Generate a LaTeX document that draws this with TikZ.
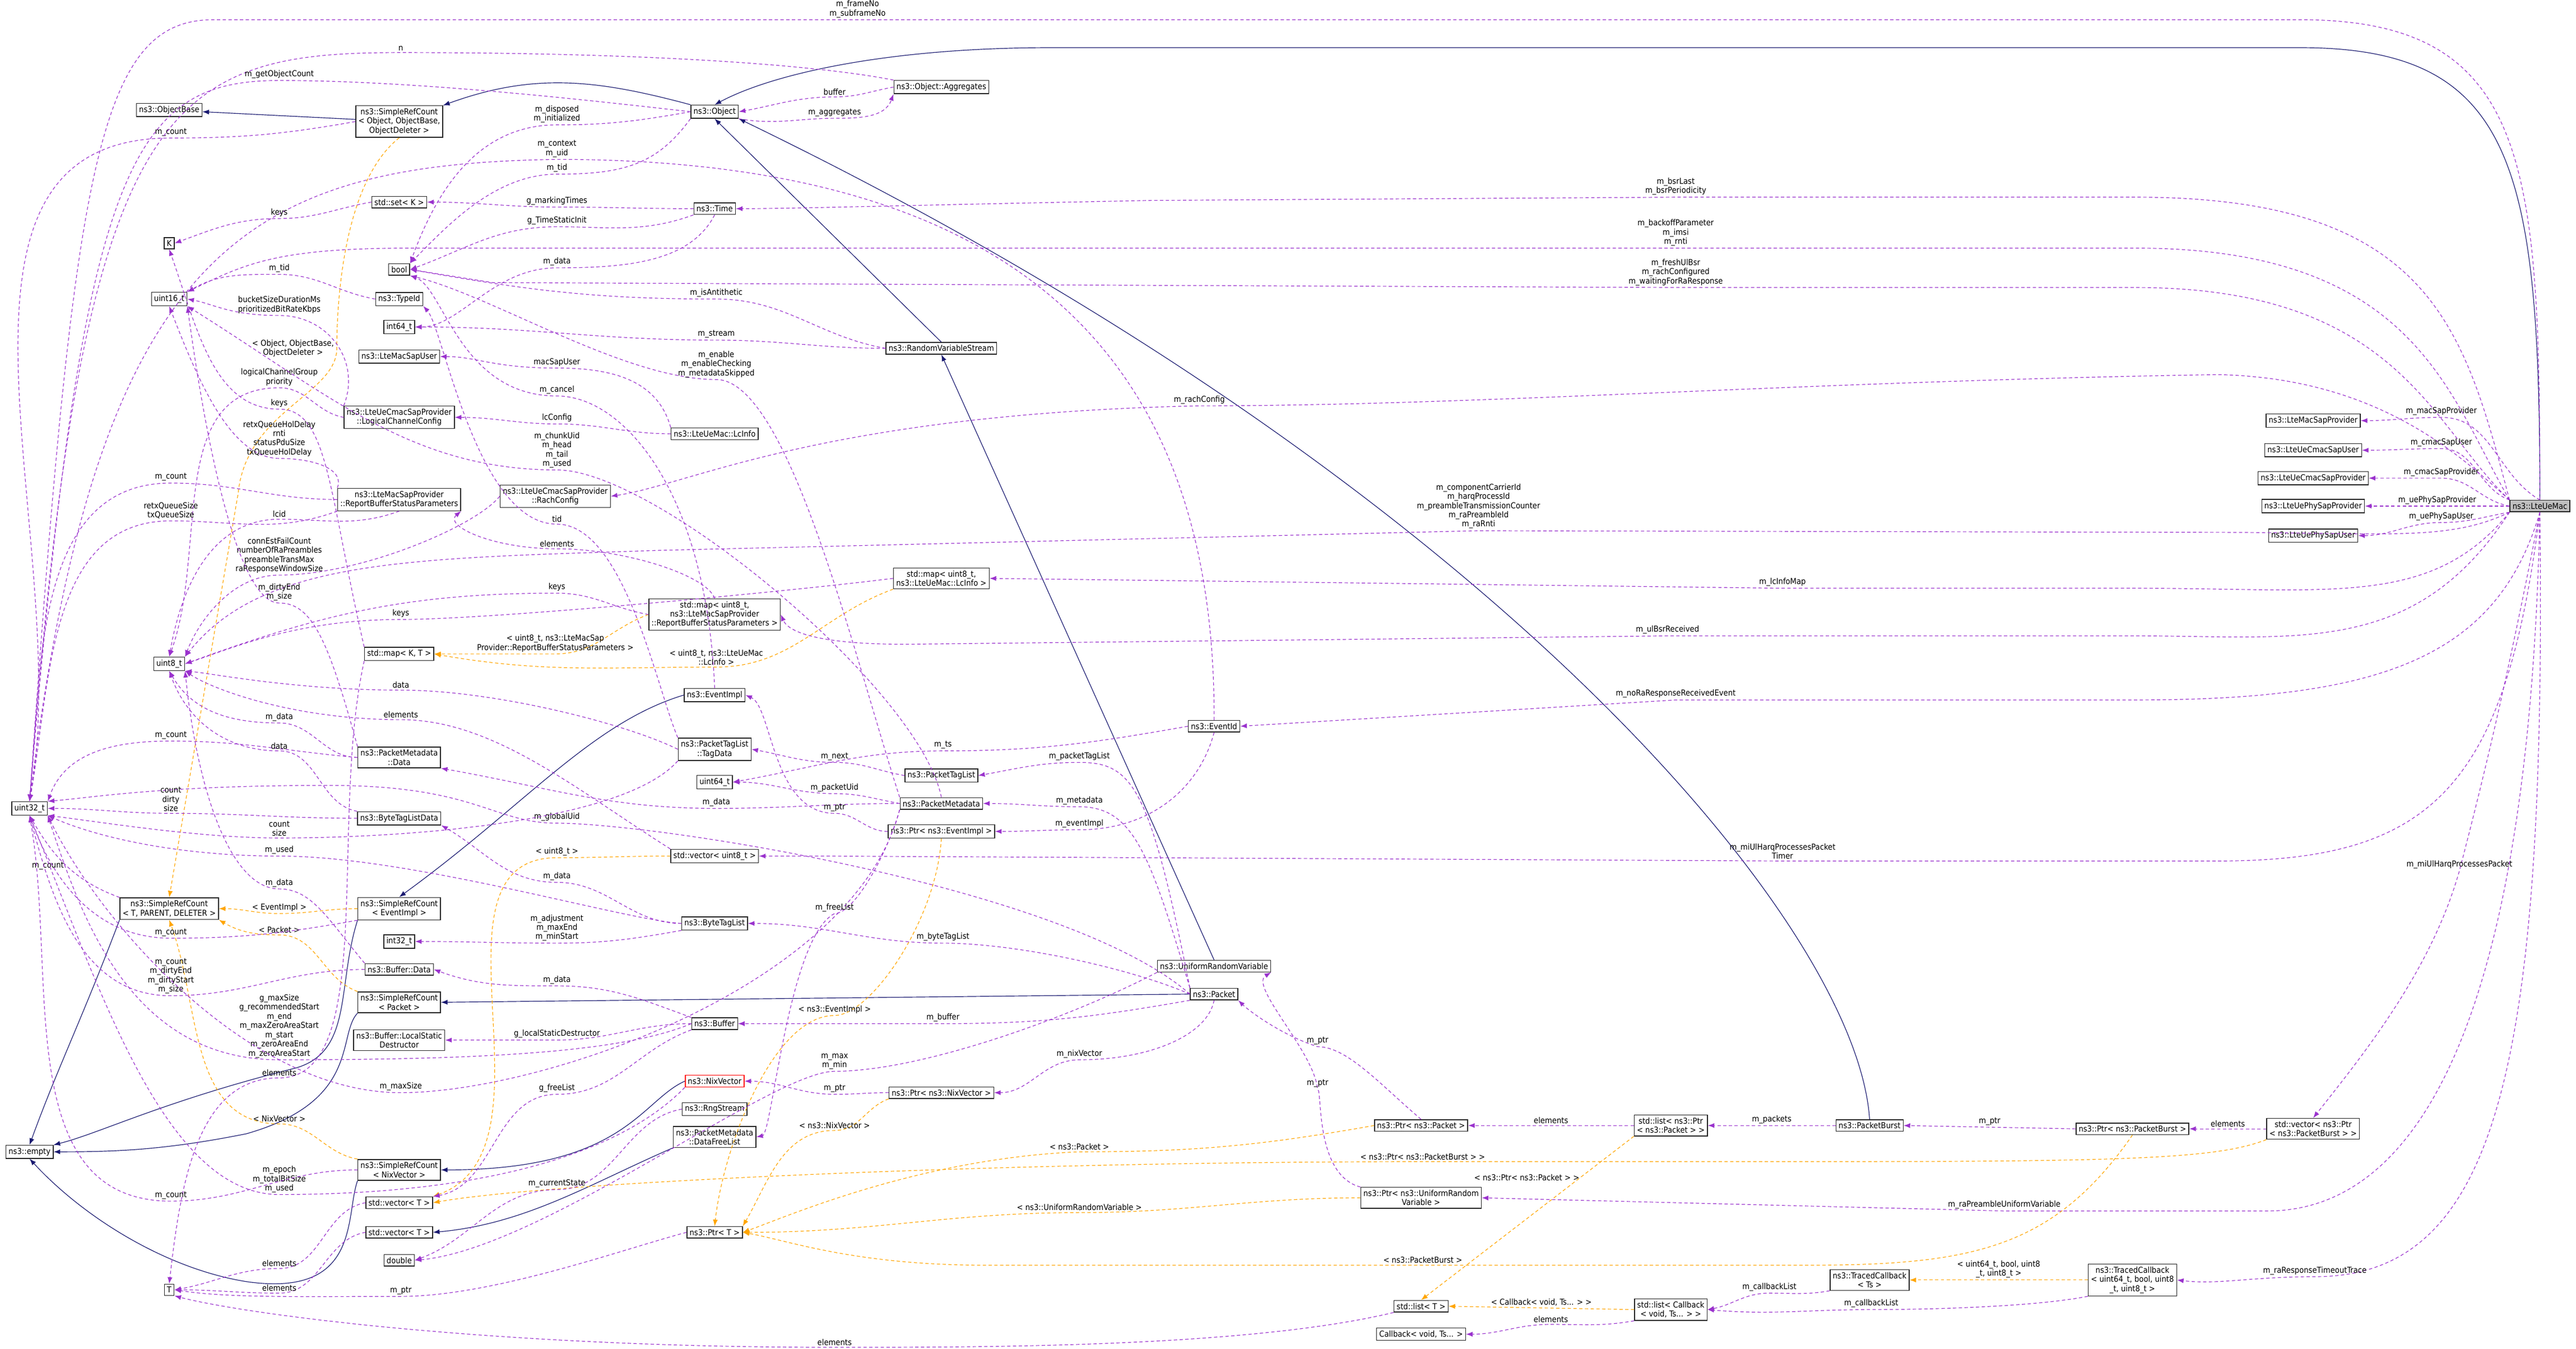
\documentclass[tikz,border=0pt]{standalone}
\usepackage{fontspec}
\setmainfont{DejaVu Sans Condensed}
\usetikzlibrary{arrows.meta}
\definecolor{memcol}{HTML}{9A32CD}
\definecolor{inhcol}{HTML}{191970}
\definecolor{tplcol}{HTML}{FFA500}
\tikzset{
  cls/.style={draw=black!85,fill=white,line width=0.5pt,inner sep=1.6pt,align=center,font=\fontsize{5}{5.6}\selectfont},
  lbl/.style={inner sep=0.6pt,align=center,font=\fontsize{5}{5.6}\selectfont},
  ab/.style={lbl,above=0.4pt},
  mem/.style={draw=memcol,line width=0.4pt,dash pattern=on 2pt off 1.5pt,-{Latex[length=4pt,width=3pt]}},
  inh/.style={draw=inhcol,line width=0.4pt,-{Latex[length=4pt,width=3pt]}},
  tpl/.style={draw=tplcol,line width=0.4pt,dash pattern=on 2pt off 1.5pt,-{Latex[length=4pt,width=3pt]}},
}
\begin{document}
\begin{tikzpicture}[x=1pt,y=-1pt]
  \useasboundingbox (0,0) rectangle (1568,821);

  % classes
  \node[cls,fill=black!25] (mac) at (1546,308) {ns3::LteUeMac};
  \node[cls] (object) at (435,68) {ns3::Object};
  \node[cls] (aggr) at (573,53) {ns3::Object::Aggregates};
  \node[cls] (objbase) at (103,67) {ns3::ObjectBase};
  \node[cls] (srcobj) at (243,74) {ns3::SimpleRefCount\\< Object, ObjectBase,\\ObjectDeleter >};
  \node[cls] (setk) at (243,123) {std::set< K >};
  \node[cls] (k) at (103,148) {K};
  \node[cls] (bool) at (243,164) {bool};
  \node[cls] (uint16) at (103,182) {uint16\_t};
  \node[cls] (typeid) at (243,182) {ns3::TypeId};
  \node[cls] (int64) at (243,199) {int64\_t};
  \node[cls] (macsapuser) at (243,217) {ns3::LteMacSapUser};
  \node[cls] (lcc) at (243,254) {ns3::LteUeCmacSapProvider\\::LogicalChannelConfig};
  \node[cls] (time) at (435,127) {ns3::Time};
  \node[cls] (rvs) at (573,212) {ns3::RandomVariableStream};
  \node[cls] (lcinfo) at (435,264) {ns3::LteUeMac::LcInfo};
  \node[cls] (rbsp) at (243,304) {ns3::LteMacSapProvider\\::ReportBufferStatusParameters};
  \node[cls] (rach) at (338,302) {ns3::LteUeCmacSapProvider\\::RachConfig};
  \node[cls] (uint8) at (103,404) {uint8\_t};
  \node[cls] (maplc) at (573,352) {std::map< uint8\_t,\\ ns3::LteUeMac::LcInfo >};
  \node[cls] (maprbsp) at (435,374) {std::map< uint8\_t,\\ ns3::LteMacSapProvider\\::ReportBufferStatusParameters >};
  \node[cls] (mapkt) at (243,398) {std::map< K, T >};
  \node[cls] (eventimpl) at (435,423) {ns3::EventImpl};
  \node[cls] (tagdata) at (435,456) {ns3::PacketTagList\\::TagData};
  \node[cls] (pmdata) at (243,461) {ns3::PacketMetadata\\::Data};
  \node[cls] (uint32) at (18,492) {uint32\_t};
  \node[cls] (btldata) at (243,498) {ns3::ByteTagListData};
  \node[cls] (uint64) at (435,476) {uint64\_t};
  \node[cls] (ptaglist) at (573,472) {ns3::PacketTagList};
  \node[cls] (pmeta) at (573,489) {ns3::PacketMetadata};
  \node[cls] (ptrevent) at (573,506) {ns3::Ptr< ns3::EventImpl >};
  \node[cls] (eventid) at (739,442) {ns3::EventId};
  \node[cls] (vecuint8) at (435,521) {std::vector< uint8\_t >};
  \node[cls] (srct) at (103,553) {ns3::SimpleRefCount\\< T, PARENT, DELETER >};
  \node[cls] (srcevent) at (243,553) {ns3::SimpleRefCount\\< EventImpl >};
  \node[cls] (int32) at (243,573) {int32\_t};
  \node[cls] (btaglist) at (435,562) {ns3::ByteTagList};
  \node[cls] (bufdata) at (243,590) {ns3::Buffer::Data};
  \node[cls] (urv) at (739,588) {ns3::UniformRandomVariable};
  \node[cls] (packet) at (739,605) {ns3::Packet};
  \node[cls] (srcpacket) at (243,610) {ns3::SimpleRefCount\\< Packet >};
  \node[cls] (lsd) at (243,633) {ns3::Buffer::LocalStatic\\Destructor};
  \node[cls] (buffer) at (435,623) {ns3::Buffer};
  \node[cls] (empty) at (18,701) {ns3::empty};
  \node[cls,draw=red] (nix) at (435,658) {ns3::NixVector};
  \node[cls] (rng) at (435,675) {ns3::RngStream};
  \node[cls] (dfl) at (435,692) {ns3::PacketMetadata\\::DataFreeList};
  \node[cls] (ptrnix) at (573,665) {ns3::Ptr< ns3::NixVector >};
  \node[cls] (srcnix) at (243,712) {ns3::SimpleRefCount\\< NixVector >};
  \node[cls] (vect1) at (243,732) {std::vector< T >};
  \node[cls] (vect2) at (243,750) {std::vector< T >};
  \node[cls] (double) at (243,767) {double};
  \node[cls] (ptrt) at (435,750) {ns3::Ptr< T >};
  \node[cls] (t) at (103,785) {T};
  \node[cls] (ptrpacket) at (865,685) {ns3::Ptr< ns3::Packet >};
  \node[cls] (listpp) at (1017,685) {std::list< ns3::Ptr\\< ns3::Packet > >};
  \node[cls] (pburst) at (1138,685) {ns3::PacketBurst};
  \node[cls] (ptrpb) at (1298,687) {ns3::Ptr< ns3::PacketBurst >};
  \node[cls] (vecpb) at (1408,687) {std::vector< ns3::Ptr\\< ns3::PacketBurst > >};
  \node[cls] (ptrurv) at (865,729) {ns3::Ptr< ns3::UniformRandom\\Variable >};
  \node[cls] (listt) at (865,795) {std::list< T >};
  \node[cls] (cbvoid) at (865,812) {Callback< void, Ts... >};
  \node[cls] (listcb) at (1017,797) {std::list< Callback\\< void, Ts... > >};
  \node[cls] (tcts) at (1138,779) {ns3::TracedCallback\\< Ts >};
  \node[cls] (tcu) at (1298,779) {ns3::TracedCallback\\< uint64\_t, bool, uint8\\\_t, uint8\_t >};
  \node[cls] (macsapprov) at (1408,256) {ns3::LteMacSapProvider};
  \node[cls] (cmacuser) at (1408,274) {ns3::LteUeCmacSapUser};
  \node[cls] (cmacprov) at (1408,291) {ns3::LteUeCmacSapProvider};
  \node[cls] (phyprov) at (1408,308) {ns3::LteUePhySapProvider};
  \node[cls] (phyuser) at (1408,326) {ns3::LteUePhySapUser};

  % inheritance
  \draw[inh] (srcobj) -- (objbase);
  \draw[inh] (object.north west) to[out=165,in=20] (srcobj.north east);
  \draw[inh] (mac.north) .. controls (1546,100) and (1530,29) .. (1400,29) -- (640,29) .. controls (540,29) and (470,45) .. (object.north);
  \draw[inh] (rvs.north) -- (object.south);
  \draw[inh] (pburst.north) .. controls (1130,560) and (900,290) .. (object.south east);
  \draw[inh] (urv.north) -- (rvs.south);
  \draw[inh] (packet.west) -- (srcpacket.east);
  \draw[inh] (eventimpl.west) .. controls (360,440) and (320,490) .. (srcevent.north);
  \draw[inh] (nix.west) .. controls (390,670) and (380,712) .. (srcnix.east);
  \draw[inh] (dfl.south west) .. controls (360,720) and (320,745) .. (vect2.east);
  \draw[inh] (srct.south west) .. controls (50,620) and (35,650) .. (empty.north);
  \draw[inh] (srcevent.south west) .. controls (205,600) and (215,640) .. (180,650) .. controls (100,670) and (60,690) .. (empty.north east);
  \draw[inh] (srcpacket.south west) .. controls (205,630) and (220,670) .. (150,690) .. controls (100,700) and (70,701) .. (empty.east);
  \draw[inh] (srcnix.south west) .. controls (210,740) and (220,790) .. (150,780) .. controls (100,772) and (50,740) .. (empty.south);

  % template instances
  \draw[tpl] (srcobj.south) .. controls (210,110) and (205,180) .. (205,212) node[lbl,left=1pt]{< Object, ObjectBase,\\ObjectDeleter >} .. controls (205,240) and (150,250) .. (145,300) -- (srct.north);
  \draw[tpl] (srcevent.west) to[out=180,in=0] (170,556) node[ab]{< EventImpl >} to[out=180,in=0] (srct.east);
  \draw[tpl] (srcpacket.north west) to[out=160,in=0] (170,569) node[ab]{< Packet >} to[out=180,in=-30] (srct.south east);
  \draw[tpl] (srcnix.north west) to[out=170,in=0] (170,684) node[ab]{< NixVector >} to[out=180,in=-70] (srct.south);
  \draw[tpl] (maprbsp.west) to[out=200,in=0] (338,398) node[ab]{< uint8\_t, ns3::LteMacSap\\Provider::ReportBufferStatusParameters >} to[out=180,in=0] (mapkt.east);
  \draw[tpl] (maplc.south west) to[out=200,in=0] (436,406) node[ab]{< uint8\_t, ns3::LteUeMac\\::LcInfo >} to[out=180,in=-10] (mapkt.east);
  \draw[tpl] (vecuint8.west) to[out=180,in=0] (339,522) node[ab]{< uint8\_t >} to[out=180,in=20] (vect1.north east);
  \draw[tpl] (vecpb.south west) .. controls (1350,705) and (1300,707) .. (1100,707) -- (866,707) node[ab]{< ns3::Ptr< ns3::PacketBurst > >} .. controls (600,707) and (330,720) .. (vect1.east);
  \draw[tpl] (ptrevent.south) .. controls (570,560) and (530,618) .. (508,618) node[ab]{< ns3::EventImpl >} .. controls (470,618) and (440,700) .. (ptrt.north);
  \draw[tpl] (ptrnix.south west) to[out=200,in=0] (508,688) node[ab]{< ns3::NixVector >} to[out=180,in=60] (ptrt.north east);
  \draw[tpl] (ptrpacket.west) to[out=190,in=0] (657,701) node[ab]{< ns3::Packet >} .. controls (560,705) and (480,740) .. (ptrt.east);
  \draw[tpl] (ptrurv.west) to[out=180,in=0] (657,738) node[ab]{< ns3::UniformRandomVariable >} to[out=180,in=0] (ptrt.east);
  \draw[tpl] (ptrpb.south) .. controls (1250,760) and (1200,770) .. (1100,770) -- (866,770) node[ab]{< ns3::PacketBurst >} -- (600,770) .. controls (520,770) and (480,755) .. (ptrt.east);
  \draw[tpl] (listpp.south west) -- node[lbl,pos=0.25,left]{< ns3::Ptr< ns3::Packet > >} (listt.north);
  \draw[tpl] (listcb.west) -- node[ab]{< Callback< void, Ts... > >} (listt.east);
  \draw[tpl] (tcu.west) -- node[ab]{< uint64\_t, bool, uint8\\\_t, uint8\_t >} (tcts.east);

  % members of ns3::LteUeMac
  \draw[mem] (mac.north) .. controls (1546,100) and (1540,12) .. (1400,12) -- (522,12) node[ab]{m\_frameNo\\m\_subframeNo} -- (130,12) .. controls (60,12) and (45,100) .. (uint32.north);
  \draw[mem] (mac.north west) .. controls (1500,200) and (1480,120) .. (1300,120) -- (1020,120) node[ab]{m\_bsrLast\\m\_bsrPeriodicity} -- (700,122) .. controls (550,125) and (480,127) .. (time.east);
  \draw[mem] (mac.north west) .. controls (1490,240) and (1470,151) .. (1300,151) -- (1020,151) node[ab]{m\_backoffParameter\\m\_imsi\\m\_rnti} -- (250,151) .. controls (170,151) and (150,160) .. (uint16.north east);
  \draw[mem] (mac.north west) .. controls (1480,260) and (1460,175) .. (1300,175) -- (1020,175) node[ab]{m\_freshUlBsr\\m\_rachConfigured\\m\_waitingForRaResponse} -- (300,172) -- (bool.east);
  \draw[mem] (mac.north west) .. controls (1500,280) and (1450,230) .. (1350,228) .. controls (1100,232) and (900,247) .. (730,247) node[ab]{m\_rachConfig} .. controls (500,252) and (420,295) .. (rach.east);
  \draw[mem] (mac.north) to[out=150,in=0] (1486,254) node[ab]{m\_macSapProvider} to[out=180,in=0] (macsapprov.east);
  \draw[mem] (mac.north west) to[out=160,in=0] (1486,273) node[ab]{m\_cmacSapUser} to[out=180,in=0] (cmacuser.east);
  \draw[mem] (mac.west) to[out=170,in=0] (1486,291) node[ab]{m\_cmacSapProvider} to[out=180,in=0] (cmacprov.east);
  \draw[mem] (mac.west) -- node[ab]{m\_uePhySapProvider} (phyprov.east);
  \draw[mem] (mac.south west) to[out=190,in=0] (1486,318) node[ab]{m\_uePhySapUser} to[out=180,in=0] (phyuser.east);
  \draw[mem] (mac.south west) .. controls (1490,330) and (1450,324) .. (1350,324) -- (900,323) node[ab]{m\_componentCarrierId\\m\_harqProcessId\\m\_preambleTransmissionCounter\\m\_raPreambleId\\m\_raRnti} -- (400,335) .. controls (250,340) and (160,340) .. (uint8.north east);
  \draw[mem] (mac.south west) .. controls (1480,370) and (1420,358) .. (1300,358) -- (1085,358) node[ab]{m\_lcInfoMap} -- (maplc.east);
  \draw[mem] (mac.south west) .. controls (1470,400) and (1400,387) .. (1300,387) -- (1015,387) node[ab]{m\_ulBsrReceived} -- (560,392) .. controls (500,393) and (480,385) .. (maprbsp.east);
  \draw[mem] (mac.south) .. controls (1520,400) and (1450,426) .. (1300,426) -- (1020,426) node[ab]{m\_noRaResponseReceivedEvent} -- (eventid.east);
  \draw[mem] (mac.south) .. controls (1525,480) and (1480,524) .. (1350,524) -- (1085,524) node[ab]{m\_miUlHarqProcessesPacket\\Timer} -- (500,521) -- (vecuint8.east);
  \draw[mem] (mac.south) .. controls (1525,420) and (1510,480) .. (1497,530) node[ab]{m\_miUlHarqProcessesPacket} .. controls (1480,590) and (1440,640) .. (vecpb.north);
  \draw[mem] (mac.south) .. controls (1540,600) and (1480,737) .. (1380,737) -- (1220,737) node[ab]{m\_raPreambleUniformVariable} -- (ptrurv.east);
  \draw[mem] (mac.south) .. controls (1550,650) and (1520,777) .. (1409,777) node[ab]{m\_raResponseTimeoutTrace} .. controls (1370,777) and (1350,782) .. (tcu.east);

  % other members
  \draw[mem] (srcobj.west) to[out=190,in=0] (104,84) node[ab]{m\_count} to[out=180,in=80] (uint32.north);
  \draw[mem] (aggr.north west) .. controls (500,40) and (400,32) .. (244,32) node[ab]{n} .. controls (100,32) and (50,60) .. (uint32.north);
  \draw[mem] (object.west) .. controls (350,60) and (250,49) .. (170,49) node[ab]{m\_getObjectCount} .. controls (80,49) and (50,100) .. (uint32.north);
  \draw[mem] (aggr.west) to[out=190,in=0] (508,59) node[ab]{buffer} to[out=180,in=10] (object.east);
  \draw[mem] (object.south east) to[out=-10,in=180] (508,72) node[ab]{m\_aggregates} to[out=0,in=-110] (aggr.south west);
  \draw[mem] (object.west) to[out=190,in=0] (339,76) node[ab]{m\_disposed\\m\_initialized} to[out=180,in=70] (bool.north east);
  \draw[mem] (eventid.north) .. controls (740,200) and (600,97) .. (339,97) node[ab]{m\_context\\m\_uid} .. controls (150,100) and (60,150) .. (uint32.north);
  \draw[mem] (object.south west) .. controls (400,100) and (380,106) .. (339,106) node[ab]{m\_tid} .. controls (300,106) and (270,140) .. (bool.north east);
  \draw[mem] (time.west) to[out=180,in=0] (339,126) node[ab]{g\_markingTimes} to[out=180,in=0] (setk.east);
  \draw[mem] (setk.west) to[out=190,in=0] (170,133) node[ab]{keys} to[out=180,in=20] (k.east);
  \draw[mem] (time.south west) to[out=200,in=0] (339,138) node[ab]{g\_TimeStaticInit} to[out=180,in=20] (bool.east);
  \draw[mem] (time.south) .. controls (420,160) and (380,163) .. (339,163) node[ab]{m\_data} .. controls (300,163) and (280,199) .. (int64.east);
  \draw[mem] (typeid.west) to[out=170,in=0] (170,167) node[ab]{m\_tid} to[out=180,in=30] (uint16.north east);
  \draw[mem] (lcc.north west) .. controls (220,220) and (200,192) .. (170,192) node[ab]{bucketSizeDurationMs\\prioritizedBitRateKbps} .. controls (140,192) and (130,185) .. (uint16.east);
  \draw[mem] (lcinfo.north west) .. controls (400,230) and (370,224) .. (339,224) node[ab]{macSapUser} .. controls (300,224) and (290,217) .. (macsapuser.east);
  \draw[mem] (lcc.west) to[out=170,in=0] (170,236) node[ab]{logicalChannelGroup\\priority} to[out=180,in=70] (uint8.north);
  \draw[mem] (eventimpl.north) .. controls (430,300) and (380,241) .. (339,241) node[ab]{m\_cancel} .. controls (280,241) and (270,175) .. (bool.south east);
  \draw[mem] (mapkt.north west) .. controls (200,300) and (200,249) .. (170,249) node[ab]{keys} .. controls (130,249) and (120,200) .. (k.south);
  \draw[mem] (lcinfo.west) to[out=180,in=0] (339,258) node[ab]{lcConfig} to[out=180,in=0] (lcc.east);
  \draw[mem] (rbsp.north west) .. controls (210,285) and (190,279) .. (170,279) node[ab]{retxQueueHolDelay\\rnti\\statusPduSize\\txQueueHolDelay} .. controls (140,279) and (120,230) .. (uint16.south);
  \draw[mem] (pmeta.north) .. controls (560,420) and (400,286) .. (339,286) node[ab]{m\_chunkUid\\m\_head\\m\_tail\\m\_used} .. controls (250,286) and (200,240) .. (uint16.south east);
  \draw[mem] (rvs.west) to[out=170,in=0] (436,182) node[ab]{m\_isAntithetic} to[out=180,in=-10] (bool.east);
  \draw[mem] (rvs.west) to[out=180,in=0] (436,207) node[ab]{m\_stream} to[out=180,in=0] (int64.east);
  \draw[mem] (pmeta.north west) .. controls (520,400) and (480,231) .. (436,231) node[ab]{m\_enable\\m\_enableChecking\\m\_metadataSkipped} .. controls (380,231) and (300,180) .. (bool.south east);
  \draw[mem] (rbsp.west) to[out=180,in=0] (104,294) node[ab]{m\_count} to[out=180,in=85] (uint32.north);
  \draw[mem] (rbsp.south west) to[out=200,in=0] (104,317) node[ab]{retxQueueSize\\txQueueSize} to[out=180,in=80] (uint32.north);
  \draw[mem] (rbsp.south) to[out=200,in=0] (170,316) node[ab]{lcid} to[out=180,in=80] (uint8.north);
  \draw[mem] (tagdata.north west) .. controls (400,420) and (380,319) .. (339,319) node[ab]{tid} .. controls (290,319) and (270,200) .. (typeid.south east);
  \draw[mem] (maprbsp.north) .. controls (430,350) and (380,334) .. (339,334) node[ab]{elements} .. controls (300,334) and (270,320) .. (rbsp.south east);
  \draw[mem] (rach.west) .. controls (290,320) and (220,350) .. (170,350) node[ab]{connEstFailCount\\numberOfRaPreambles\\preambleTransMax\\raResponseWindowSize} .. controls (140,350) and (120,380) .. (uint8.north east);
  \draw[mem] (maprbsp.west) to[out=170,in=0] (339,361) node[ab]{keys} to[out=180,in=20] (uint8.east);
  \draw[mem] (pmdata.north west) .. controls (200,390) and (190,367) .. (170,367) node[ab]{m\_dirtyEnd\\m\_size} .. controls (140,367) and (120,230) .. (uint16.south east);
  \draw[mem] (maplc.west) .. controls (480,360) and (300,377) .. (244,377) node[ab]{keys} .. controls (180,377) and (140,395) .. (uint8.east);
  \draw[mem] (tagdata.west) .. controls (380,440) and (300,420) .. (244,420) node[ab]{data} .. controls (180,420) and (130,410) .. (uint8.south east);
  \draw[mem] (vecuint8.north west) .. controls (350,480) and (300,438) .. (244,438) node[ab]{elements} .. controls (180,438) and (130,420) .. (uint8.south east);
  \draw[mem] (pmdata.west) to[out=180,in=0] (170,440) node[ab]{m\_data} to[out=180,in=-60] (uint8.south);
  \draw[mem] (pmdata.west) to[out=175,in=0] (104,451) node[ab]{m\_count} to[out=180,in=70] (uint32.north east);
  \draw[mem] (btldata.north west) to[out=170,in=0] (170,457) node[ab]{data} to[out=180,in=-70] (uint8.south);
  \draw[mem] (packet.west) .. controls (650,540) and (400,501) .. (339,501) node[ab]{m\_globalUid} .. controls (300,501) and (290,478) .. (200,478) .. controls (100,478) and (60,485) .. (uint32.north east);
  \draw[mem] (btldata.west) to[out=180,in=0] (104,495) node[ab]{count\\dirty\\size} to[out=180,in=0] (uint32.east);
  \draw[mem] (tagdata.south west) .. controls (380,500) and (250,510) .. (170,510) node[ab]{count\\size} .. controls (120,510) and (60,500) .. (uint32.south east);
  \draw[mem] (btaglist.west) .. controls (380,560) and (250,521) .. (170,521) node[ab]{m\_used} .. controls (110,521) and (60,510) .. (uint32.south east);
  \draw[mem] (btaglist.west) to[out=180,in=0] (339,537) node[ab]{m\_data} to[out=180,in=-30] (btldata.south east);
  \draw[mem] (srct.north west) to[out=160,in=-60] node[lbl,left=1pt,pos=0.5]{m\_count} (uint32.south);
  \draw[mem] (bufdata.north west) .. controls (200,560) and (190,541) .. (170,541) node[ab]{m\_data} .. controls (140,541) and (120,480) .. (uint8.south east);
  \draw[mem] (srcevent.south west) to[out=190,in=0] (104,571) node[ab]{m\_count} to[out=180,in=-70] (uint32.south);
  \draw[mem] (bufdata.west) to[out=180,in=0] (104,606) node[ab]{m\_count\\m\_dirtyEnd\\m\_dirtyStart\\m\_size} to[out=180,in=-75] (uint32.south);
  \draw[mem] (btaglist.south west) to[out=190,in=0] (339,574) node[ab]{m\_adjustment\\m\_maxEnd\\m\_minStart} to[out=180,in=0] (int32.east);
  \draw[mem] (buffer.north west) to[out=160,in=0] (339,600) node[ab]{m\_data} to[out=180,in=-20] (bufdata.east);
  \draw[mem] (buffer.west) .. controls (380,640) and (300,645) .. (170,645) node[ab]{g\_maxSize\\g\_recommendedStart\\m\_end\\m\_maxZeroAreaStart\\m\_start\\m\_zeroAreaEnd\\m\_zeroAreaStart} .. controls (80,645) and (50,560) .. (uint32.south east);
  \draw[mem] (buffer.west) to[out=180,in=0] (339,633) node[ab]{g\_localStaticDestructor} to[out=180,in=0] (lsd.east);
  \draw[mem] (mapkt.south west) .. controls (200,500) and (230,656) .. (170,656) node[ab]{elements} .. controls (120,656) and (110,720) .. (t.north);
  \draw[mem] (pmeta.south west) .. controls (520,600) and (330,665) .. (244,665) node[ab]{m\_maxSize} .. controls (150,665) and (60,560) .. (uint32.south east);
  \draw[mem] (buffer.south west) to[out=200,in=0] (339,666) node[ab]{g\_freeList} to[out=180,in=10] (vect1.north east);
  \draw[mem] (nix.south west) .. controls (380,700) and (300,727) .. (170,727) node[ab]{m\_epoch\\m\_totalBitSize\\m\_used} .. controls (100,727) and (60,600) .. (uint32.south);
  \draw[mem] (srcnix.west) to[out=180,in=0] (104,731) node[ab]{m\_count} to[out=180,in=-80] (uint32.south);
  \draw[mem] (rng.west) to[out=190,in=0] (339,724) node[ab]{m\_currentState} to[out=180,in=20] (double.east);
  \draw[mem] (urv.south west) .. controls (650,620) and (560,652) .. (508,652) node[ab]{m\_max\\m\_min} .. controls (470,652) and (330,760) .. (double.east);
  \draw[mem] (vect1.west) to[out=190,in=0] (170,772) node[ab]{elements} to[out=180,in=10] (t.east);
  \draw[mem] (vect2.west) to[out=190,in=0] (170,787) node[ab]{elements} to[out=180,in=0] (t.east);
  \draw[mem] (ptrt.west) .. controls (380,760) and (300,789) .. (244,789) node[ab]{m\_ptr} .. controls (180,789) and (140,790) .. (t.east);
  \draw[mem] (listt.south west) .. controls (760,820) and (600,820) .. (508,820) node[ab]{elements} .. controls (300,820) and (150,800) .. (t.south east);
  \draw[mem] (eventid.west) to[out=190,in=0] (574,457) node[ab]{m\_ts} to[out=180,in=10] (uint64.east);
  \draw[mem] (ptaglist.west) to[out=170,in=0] (508,464) node[ab]{m\_next} to[out=180,in=-10] (tagdata.east);
  \draw[mem] (packet.north west) .. controls (700,480) and (690,464) .. (657,464) node[ab]{m\_packetTagList} to[out=180,in=10] (ptaglist.east);
  \draw[mem] (pmeta.west) to[out=170,in=0] (508,483) node[ab]{m\_packetUid} to[out=180,in=0] (uint64.east);
  \draw[mem] (pmeta.west) to[out=180,in=0] (436,492) node[ab]{m\_data} to[out=180,in=-10] (pmdata.south east);
  \draw[mem] (ptrevent.west) to[out=180,in=0] (508,495) node[ab]{m\_ptr} .. controls (470,495) and (470,430) .. (eventimpl.east);
  \draw[mem] (packet.north west) .. controls (700,520) and (690,491) .. (657,491) node[ab]{m\_metadata} to[out=180,in=0] (pmeta.east);
  \draw[mem] (eventid.south) .. controls (730,480) and (700,505) .. (657,505) node[ab]{m\_eventImpl} to[out=180,in=0] (ptrevent.east);
  \draw[mem] (pmeta.south west) .. controls (540,520) and (520,556) .. (508,556) node[ab]{m\_freeList} .. controls (480,570) and (470,690) .. (dfl.east);
  \draw[mem] (packet.west) .. controls (690,590) and (620,574) .. (574,574) node[ab]{m\_byteTagList} to[out=180,in=0] (btaglist.east);
  \draw[mem] (packet.south west) to[out=190,in=0] (574,623) node[ab]{m\_buffer} to[out=180,in=0] (buffer.east);
  \draw[mem] (packet.south) .. controls (735,630) and (700,645) .. (657,645) node[ab]{m\_nixVector} to[out=180,in=0] (ptrnix.east);
  \draw[mem] (ptrnix.west) to[out=180,in=0] (508,666) node[ab]{m\_ptr} to[out=180,in=0] (nix.east);
  \draw[mem] (ptrpacket.north) .. controls (840,660) and (820,637) .. (802,637) node[ab]{m\_ptr} .. controls (780,630) and (760,615) .. (packet.south east);
  \draw[mem] (ptrurv.north west) .. controls (800,715) and (805,663) .. (802,663) node[ab]{m\_ptr} .. controls (800,640) and (760,600) .. (urv.south east);
  \draw[mem] (listpp.west) -- node[ab]{elements} (ptrpacket.east);
  \draw[mem] (pburst.west) -- node[ab]{m\_packets} (listpp.east);
  \draw[mem] (ptrpb.west) -- node[ab]{m\_ptr} (pburst.east);
  \draw[mem] (vecpb.west) -- node[ab]{elements} (ptrpb.east);
  \draw[mem] (listcb.south west) to[out=190,in=0] (944,806) node[ab]{elements} to[out=180,in=0] (cbvoid.east);
  \draw[mem] (tcts.south west) to[out=190,in=0] (1077,787) node[ab]{m\_callbackList} to[out=180,in=10] (listcb.east);
  \draw[mem] (tcu.south west) .. controls (1240,795) and (1180,797) .. (1139,797) node[ab]{m\_callbackList} to[out=180,in=-5] (listcb.east);
\end{tikzpicture}
\end{document}
